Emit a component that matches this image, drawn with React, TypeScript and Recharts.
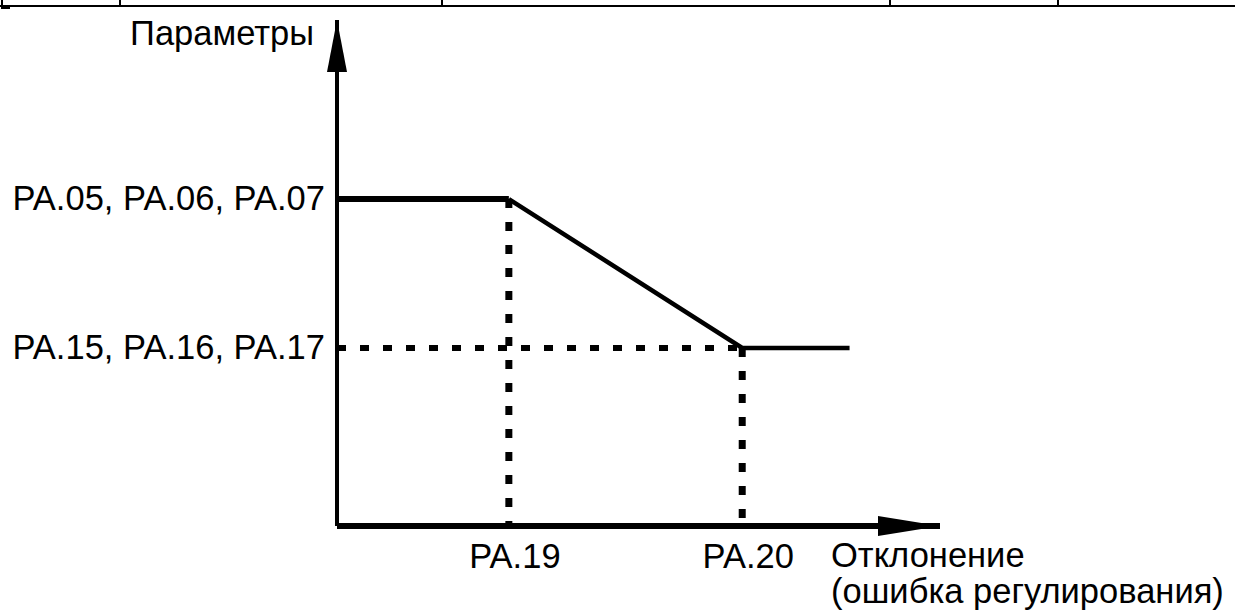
import React from "react";
import {
  LineChart,
  Line,
  XAxis,
  YAxis,
  ReferenceLine,
  ReferenceDot,
} from "recharts";

// Deviation axis positions (arbitrary units, 0..10)
const xTicks = [2.85, 6.72];
const xTickLabels = ["PA.19", "PA.20"];
const lineEndX = 8.5;

// Parameter axis levels (arbitrary units, 0..10)
const yTicks = [3.52, 6.46];
const yTickLabels = ["PA.15, PA.16, PA.17", "PA.05, PA.06, PA.07"];

const upperSegment = [
  { x: 0, y: yTicks[1] },
  { x: xTicks[0], y: yTicks[1] },
];
const slopeSegment = [
  { x: xTicks[0], y: yTicks[1] },
  { x: xTicks[1], y: yTicks[0] },
  { x: lineEndX, y: yTicks[0] },
];

const yTitle = "Параметры";
const xTitle = ["Отклонение", "(ошибка регулирования)"];

// top table fragment (cut-off row), x positions of column borders
const tableCols = [2, 120, 442, 890, 1058];

const FONT = "'Liberation Sans', Arial, sans-serif";
const FS = 34.5;

const XTick = ({ x, y, payload }: any) => {
  const i = xTicks.indexOf(payload.value);
  return (
    <text x={x + 6} y={y + 42} textAnchor="middle" fontSize={FS} fontFamily={FONT} fill="#000">
      {xTickLabels[i]}
    </text>
  );
};

const YTick = ({ x, y, payload }: any) => {
  const i = yTicks.indexOf(payload.value);
  return (
    <text x={x - 12} y={y + 11} textAnchor="end" fontSize={FS} fontFamily={FONT} fill="#000">
      {yTickLabels[i]}
    </text>
  );
};

const UpArrow = ({ cx, cy }: any) => (
  <polygon points={`${cx},${cy} ${cx - 10},${cy + 52} ${cx + 10},${cy + 52}`} fill="#000" />
);

const RightArrow = ({ cx, cy }: any) => (
  <polygon points={`${cx},${cy} ${cx - 62},${cy - 10} ${cx - 62},${cy + 10}`} fill="#000" />
);

export default function App() {
  return (
    <div style={{ position: "absolute", left: 0, top: 0, width: 1235, height: 614, background: "#fff" }}>
      {/* cut-off table row at the top */}
      <div style={{ position: "absolute", left: 0, top: 5, width: 1235, height: 2, background: "#000" }} />
      {tableCols.map((c) => (
        <div key={c} style={{ position: "absolute", left: c - 1, top: 0, width: 2, height: 6, background: "#000" }} />
      ))}
      <div style={{ position: "absolute", left: 1, top: 6, width: 2, height: 3, background: "#000" }} />
      <div style={{ position: "absolute", left: 1, top: 7, width: 9, height: 1.5, background: "#000" }} />

      <LineChart
        width={1235}
        height={614}
        margin={{ top: 20, right: 295, bottom: 58, left: 0 }}
        style={{ position: "absolute", left: 0, top: 0 }}
      >
        <XAxis
          type="number"
          dataKey="x"
          domain={[0, 10]}
          ticks={xTicks}
          interval={0}
          height={30}
          tickSize={0}
          tickMargin={0}
          tickLine={false}
          axisLine={{ stroke: "#000", strokeWidth: 6 }}
          tick={<XTick />}
          allowDataOverflow
          label={{
            content: ({ viewBox }: any) => (
              <g fontFamily={FONT} fontSize={FS} fill="#000">
                <text x={viewBox.x + 494} y={viewBox.y + 41}>{xTitle[0]}</text>
                <text x={viewBox.x + 494} y={viewBox.y + 77}>{xTitle[1]}</text>
              </g>
            ),
          }}
        />
        <YAxis
          type="number"
          domain={[0, 10]}
          ticks={yTicks}
          interval={0}
          width={337}
          tickSize={0}
          tickMargin={0}
          tickLine={false}
          axisLine={{ stroke: "#000", strokeWidth: 4 }}
          tick={<YTick />}
          allowDataOverflow
          label={{
            content: ({ viewBox }: any) => (
              <text
                x={viewBox.x + viewBox.width - 23}
                y={viewBox.y + 25}
                textAnchor="end"
                fontFamily={FONT}
                fontSize={FS}
                fill="#000"
              >
                {yTitle}
              </text>
            ),
          }}
        />

        <ReferenceLine
          segment={[{ x: xTicks[0], y: yTicks[1] }, { x: xTicks[0], y: 0 }]}
          stroke="#000"
          strokeWidth={7}
          strokeDasharray="9 14"
        />
        <ReferenceLine
          segment={[{ x: xTicks[1], y: yTicks[0] }, { x: xTicks[1], y: 0 }]}
          stroke="#000"
          strokeWidth={7}
          strokeDasharray="9 14"
        />
        <ReferenceLine
          segment={[{ x: 0, y: yTicks[0] }, { x: xTicks[1], y: yTicks[0] }]}
          stroke="#000"
          strokeWidth={6}
          strokeDasharray="9 14"
        />

        <Line
          data={upperSegment}
          dataKey="y"
          type="linear"
          stroke="#000"
          strokeWidth={6}
          dot={false}
          isAnimationActive={false}
        />
        <Line
          data={slopeSegment}
          dataKey="y"
          type="linear"
          stroke="#000"
          strokeWidth={4.5}
          dot={false}
          isAnimationActive={false}
        />

        <ReferenceDot x={0} y={10} r={0} ifOverflow="visible" shape={<UpArrow />} />
        <ReferenceDot x={10} y={0} r={0} ifOverflow="visible" shape={<RightArrow />} />
      </LineChart>
    </div>
  );
}
